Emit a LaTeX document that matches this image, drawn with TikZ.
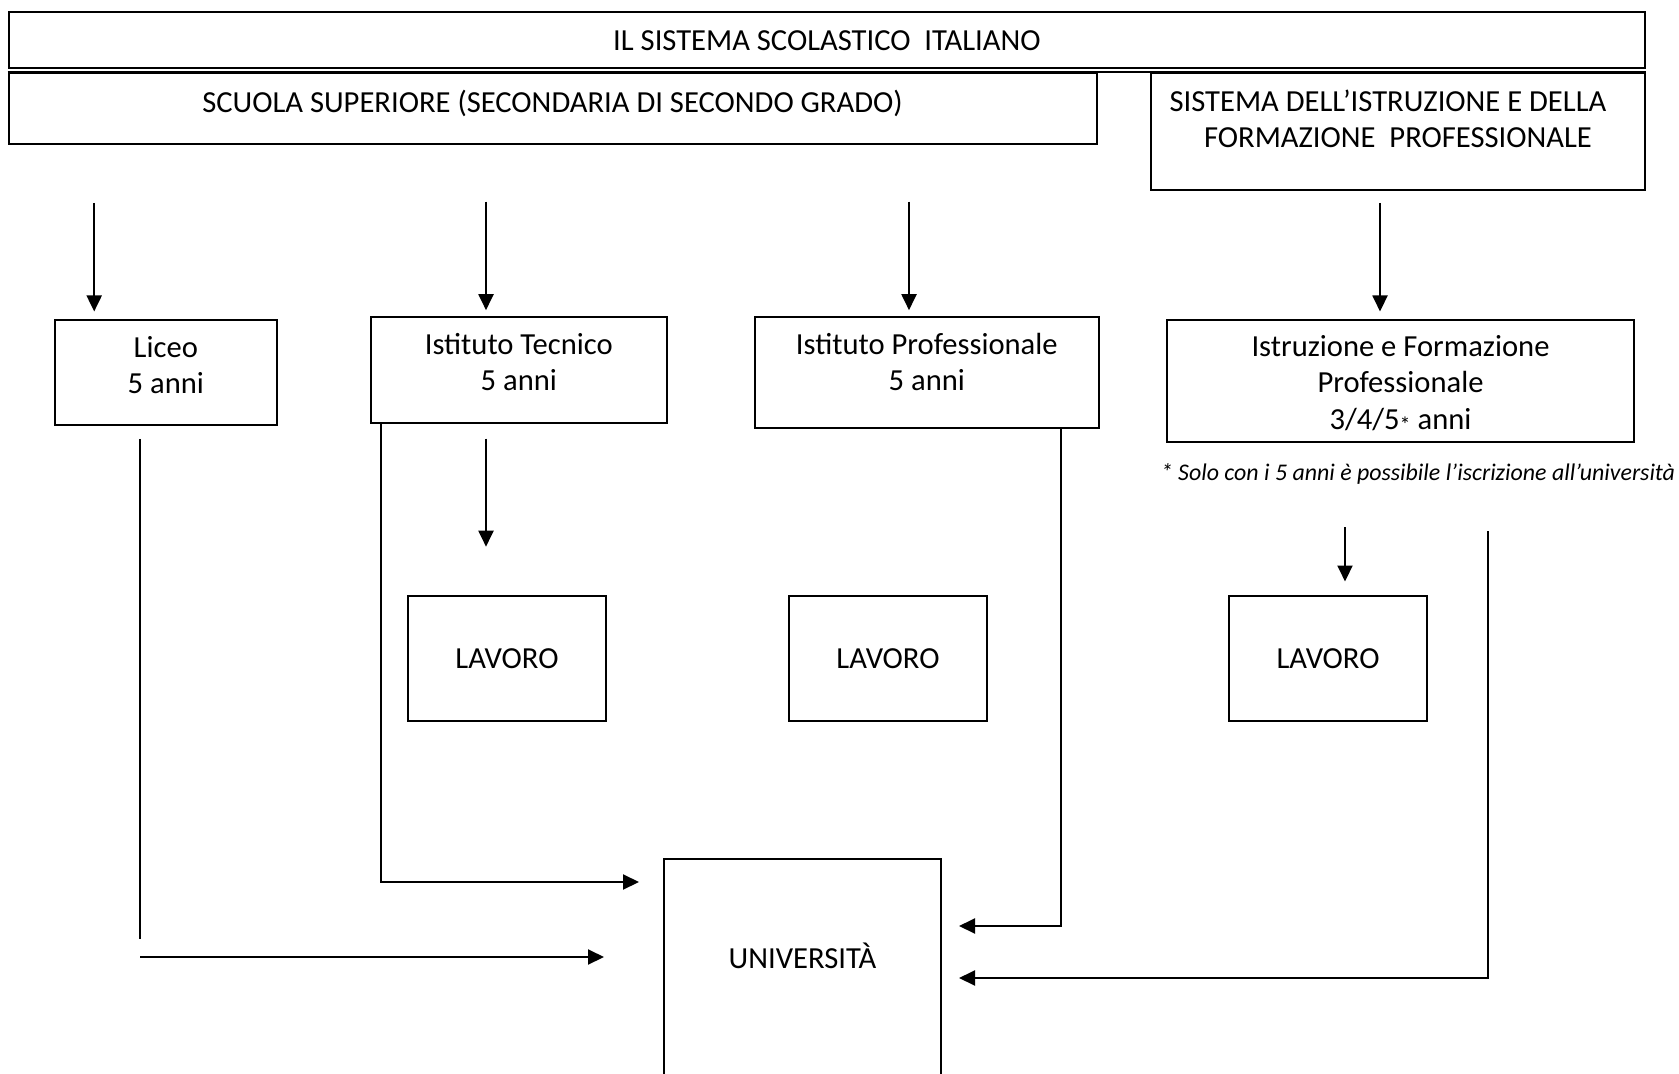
\documentclass[tikz,border=0pt]{standalone}
\usepackage{fontspec}
\setmainfont{Carlito}
\usetikzlibrary{calc, arrows.meta}

\tikzset{
  box/.style={draw, line width=1pt, align=center, inner sep=0pt, font=\fontsize{15.3}{18.2}\selectfont},
  flow/.style={line width=1pt, -{Triangle[length=8pt,width=7.5pt]}}
}

\begin{document}
\begin{tikzpicture}[x=0.5pt,y=-0.5pt]
\useasboundingbox (0,0) rectangle (1679,1074);

\node[box, anchor=north, minimum width=818pt, text height=19.3pt, text depth=8.7pt] (titolo) at (827,10.7) {IL SISTEMA SCOLASTICO~ ITALIANO};
\node[box, anchor=north, minimum width=544pt, text height=19.85pt, text depth=15.65pt] (scuola) at (552.5,71.7) {SCUOLA SUPERIORE (SECONDARIA DI SECONDO GRADO)};
\node[box, anchor=north, minimum width=247pt, text height=37.4pt, text depth=21.4pt] (sistema) at (1398,71.7) {SISTEMA DELL’ISTRUZIONE E DELLA\hspace*{10pt}\\ FORMAZIONE~ PROFESSIONALE};
\draw[line width=1pt] (scuola.north west) -- (sistema.north east);

\node[box, anchor=north, minimum width=111.2pt, text height=37pt, text depth=15.5pt] (liceo) at (165.8,319) {Liceo\\5 anni};
\node[box, anchor=north, minimum width=148.2pt, text height=37.05pt, text depth=15.95pt] (tecnico) at (518.8,315.7) {Istituto Tecnico\\5 anni};
\node[box, anchor=north, minimum width=171.8pt, text height=36.9pt, text depth=18.9pt] (profess) at (926.8,315.7) {Istituto Professionale\\5 anni};
\node[box, anchor=north, minimum width=233.5pt, text height=54.65pt, text depth=6.35pt] (iefp) at (1400.5,319) {Istruzione e Formazione\\Professionale\\3/4/5\raisebox{-1.5pt}{\fontsize{11}{11}\selectfont*} anni};
\node[font=\fontsize{11.95}{14}\selectfont\itshape] (nota) at (1418,474) {* Solo con i 5 anni è possibile l’iscrizione all’università};

\node[box, minimum width=99pt, minimum height=62.5pt] (lavoroA) at (507,658.5) {LAVORO};
\node[box, minimum width=99pt, minimum height=62.5pt] (lavoroB) at (888,658.5) {LAVORO};
\node[box, minimum width=99pt, minimum height=62.5pt] (lavoroC) at (1328,658.5) {LAVORO};
\node[box, minimum width=138.5pt, text height=54.5pt, text depth=66.5pt, anchor=north] (univ) at (802.5,858) {UNIVERSITÀ};
\coordinate (uL) at ([xshift=-29.5pt,yshift=-49.5pt]univ.north west);

\draw[flow] ([xshift=-35.8pt,yshift=58pt]liceo.north) -- ([xshift=-35.8pt,yshift=3.75pt]liceo.north);
\draw[flow] ([xshift=-16.4pt,yshift=57pt]tecnico.north) -- ([xshift=-16.4pt,yshift=2.75pt]tecnico.north);
\draw[flow] ([xshift=-8.9pt,yshift=57pt]profess.north) -- ([xshift=-8.9pt,yshift=2.75pt]profess.north);
\draw[flow] ([xshift=-10.25pt,yshift=58pt]iefp.north) -- ([xshift=-10.25pt,yshift=3.75pt]iefp.north);

\draw[flow] ([xshift=-16.4pt,yshift=-7.5pt]tecnico.south) -- ([xshift=-16.4pt,yshift=-61.5pt]tecnico.south);
\draw[flow] ([xshift=8.5pt,yshift=34pt]lavoroC.north) -- ([xshift=8.5pt,yshift=6.75pt]lavoroC.north);

\draw[line width=1pt] ([xshift=-12.9pt,yshift=-6.5pt]liceo.south) -- ++(0,500);
\draw[flow] ([xshift=-12.9pt]liceo.south |- uL) -- (uL);
\draw[flow] ([xshift=5.75pt]tecnico.south west) |- ([xshift=-12pt,yshift=-12pt]univ.north west);
\draw[flow] ([xshift=-19.3pt]profess.south east) |- ([xshift=8.5pt,yshift=-34pt]univ.north east);
\draw[flow] ([xshift=-73.5pt,yshift=-44pt]iefp.south east) |- ([xshift=8.5pt,yshift=-60pt]univ.north east);
\end{tikzpicture}
\end{document}
